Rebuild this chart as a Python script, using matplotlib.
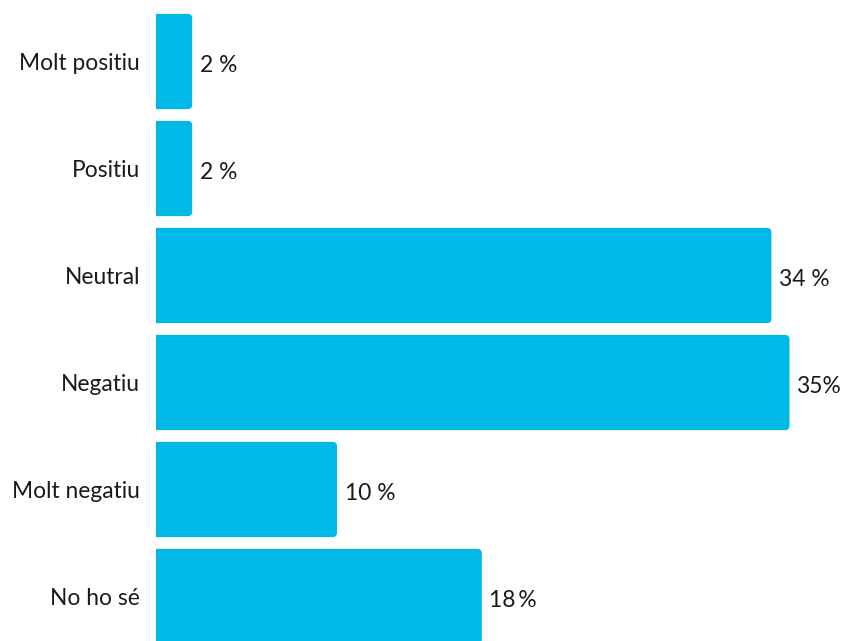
import matplotlib
matplotlib.use("Agg")
import matplotlib.pyplot as plt
from matplotlib.patches import FancyBboxPatch

categories = ["Molt positiu", "Positiu", "Neutral", "Negatiu", "Molt negatiu", "No ho sé"]
values = [2, 2, 34, 35, 10, 18]
value_labels = ["2 %", "2 %", "34 %", "35%", "10 %", "18\u2009%"]

plt.rcParams['font.family'] = ['Lato', 'DejaVu Sans']
BLUE = "#00B9E7"

fig = plt.figure(figsize=(8.46, 6.41), dpi=100)
ax = fig.add_axes([156 / 846, 0, 1 - 156 / 846, 1])

y = list(range(len(categories)))
bars = ax.barh(y, values, height=0.89, color=BLUE)

# swap the plain bars for ones with rounded right corners
x_px = 18.1   # pixels per data unit along x
y_px = 107.0  # pixels per data unit along y
r = 4.5 / x_px
for b in bars:
    x0, y0, w, h = b.get_x(), b.get_y(), b.get_width(), b.get_height()
    b.remove()
    p = FancyBboxPatch((x0 - 1, y0), w + 1, h,
                       boxstyle=f"round,pad=0,rounding_size={r}",
                       mutation_aspect=x_px / y_px,
                       facecolor=BLUE, edgecolor="none")
    ax.add_patch(p)

for yi, v, lab in zip(y, values, value_labels):
    ax.annotate(lab, (v, yi), xytext=(5.5, -3), textcoords="offset points",
                ha="left", va="center", fontsize=16.4, color="#1a1a1a")

ax.set_xlim(0, (846 - 156) / x_px)
ax.set_ylim((641 - 61.5) / y_px, -61.5 / y_px)
ax.set_yticks(y)
ax.set_yticklabels(categories, fontsize=16.4, color="#1a1a1a")
ax.tick_params(axis="y", length=0, pad=11.5)
ax.set_xticks([])
for s in ax.spines.values():
    s.set_visible(False)

fig.savefig("out.png", dpi=100)
